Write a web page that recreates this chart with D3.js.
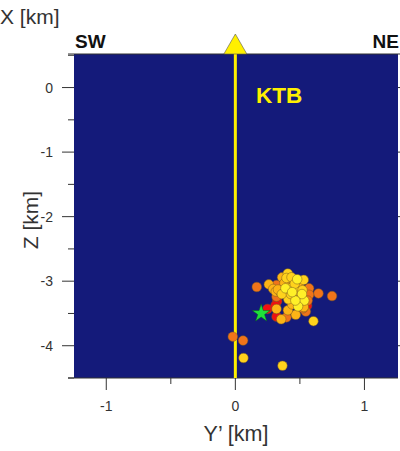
<!DOCTYPE html>
<html><head><meta charset="utf-8">
<script src="https://cdn.jsdelivr.net/npm/d3@7"></script>
<style>html,body{margin:0;background:#fff}svg{display:block;font-family:"Liberation Sans",Arial,sans-serif}</style>
</head><body><svg id="c" width="400" height="451"></svg>
<script>
const xMajor=[-1,0,1], xMinor=[-0.5,0.5];
const yMajor=[0,-1,-2,-3,-4], yMinor=[-0.5,-1.5,-2.5,-3.5,-4.5,0.5];
const redPts=[[0.324,-3.31],[0.249,-3.43],[0.319,-3.55],[0.556,-3.38],[0.31,-3.38]];
const orangePts=[[0.166,-3.09],[0.644,-3.19],[0.749,-3.23],[-0.02,-3.86],[0.06,-3.92],[0.319,-3.06],[0.571,-3.11],[0.571,-3.21],[0.546,-3.47],[0.396,-3.56],[0.525,-3.42],[0.319,-3.24],[0.47,-3.3],[0.56,-3.3]];
const amberPts=[[0.259,-3.05],[0.293,-3.12],[0.313,-3.16],[0.352,-3.17],[0.362,-2.94],[0.426,-3.06],[0.409,-3.21],[0.435,-3.24],[0.468,-3.52],[0.355,-3.59],[0.407,-3.45],[0.319,-3.43],[0.45,-3.0],[0.5,-3.25],[0.38,-3.03],[0.33,-3.13],[0.5,-3.1],[0.44,-3.36],[0.53,-3.4]];
const goldPts=[[0.406,-2.88],[0.396,-2.95],[0.435,-2.94],[0.53,-2.98],[0.422,-3.11],[0.466,-3.15],[0.41,-3.28],[0.063,-4.19],[0.365,-4.31],[0.605,-3.62],[0.36,-3.2],[0.46,-3.04],[0.52,-3.14],[0.43,-3.2]];
const yellowPts=[[0.534,-3.3],[0.486,-3.39],[0.479,-2.97],[0.388,-3.11],[0.516,-3.2],[0.465,-3.3],[0.44,-3.17]];
const classes=[[redPts,"#f01010"],[orangePts,"#f0741a"],[amberPts,"#fdb416"],[goldPts,"#ffd21c"],[yellowPts,"#fff028"]];
const starPt=[0.2,-3.5];
const xDomain=[-1.25,1.26], yDomain=[0.52,-4.5];
const svg=d3.select("#c");
const x=d3.scaleLinear().domain(xDomain).range([74,398]);
const y=d3.scaleLinear().domain(yDomain).range([54,378]);
const ink="#333";
svg.append("rect").attr("x",x.range()[0]).attr("y",y.range()[0]).attr("width",x.range()[1]-x.range()[0]).attr("height",y.range()[1]-y.range()[0]).attr("fill","#141a7a");
svg.append("line").attr("x1",68).attr("x2",400).attr("y1",54).attr("y2",54).attr("stroke",ink).attr("stroke-width",1.2);
svg.append("line").attr("x1",68).attr("x2",398).attr("y1",378).attr("y2",378).attr("stroke",ink).attr("stroke-width",1.2);
const ax=svg.append("g").attr("transform","translate(0,378)").attr("font-size",14);
xMajor.forEach(v=>{ax.append("line").attr("x1",x(v)).attr("x2",x(v)).attr("y1",0).attr("y2",12).attr("stroke",ink);
 ax.append("text").attr("x",x(v)).attr("y",33).attr("text-anchor","middle").attr("fill",ink).text(v);});
xMinor.forEach(v=>ax.append("line").attr("x1",x(v)).attr("x2",x(v)).attr("y1",0).attr("y2",6).attr("stroke",ink));
const ay=svg.append("g").attr("font-size",14);
yMajor.forEach(v=>{ay.append("line").attr("x1",62).attr("x2",74).attr("y1",y(v)).attr("y2",y(v)).attr("stroke",ink);
 ay.append("line").attr("x1",398).attr("x2",400).attr("y1",y(v)).attr("y2",y(v)).attr("stroke",ink);
 ay.append("text").attr("x",53).attr("y",y(v)+5).attr("text-anchor","end").attr("fill",ink).text(v);});
yMinor.forEach(v=>ay.append("line").attr("x1",68).attr("x2",74).attr("y1",y(v)).attr("y2",y(v)).attr("stroke",ink));
svg.append("line").attr("x1",x(0)).attr("x2",x(0)).attr("y1",54).attr("y2",378).attr("stroke","#fff000").attr("stroke-width",3);
svg.append("path").attr("d",d3.line()([[x(0)-11.5,54],[x(0),34],[x(0)+11.5,54]])+"Z").attr("fill","#fff000").attr("stroke","#555").attr("stroke-width",0.6);
classes.forEach(([pts,col])=>{
 svg.append("g").selectAll("circle").data(pts).join("circle")
  .attr("cx",d=>x(d[0])).attr("cy",d=>y(d[1])).attr("r",4.8).attr("fill",col).attr("stroke","#7a5a20").attr("stroke-width",0.5);
});
const star=d3.symbol().type(d3.symbolStar).size(100);
svg.append("path").attr("d",star()).attr("transform",`translate(${x(starPt[0])},${y(starPt[1])})`).attr("fill","#1fe03a").attr("stroke","#0a5a20").attr("stroke-width",0.5);
svg.append("text").attr("x",256).attr("y",103).attr("font-size",22.5).attr("font-weight","bold").attr("fill","#fff000").text("KTB");
svg.append("text").attr("x",75).attr("y",48).attr("font-size",19).attr("font-weight","bold").attr("fill","#111").text("SW");
svg.append("text").attr("x",399).attr("y",48).attr("text-anchor","end").attr("font-size",19).attr("font-weight","bold").attr("fill","#111").text("NE");
svg.append("text").attr("x",0).attr("y",24).attr("font-size",21).attr("fill",ink).text("X [km]");
svg.append("text").attr("x",236).attr("y",441).attr("text-anchor","middle").attr("font-size",21.5).attr("fill",ink).text("Y’ [km]");
svg.append("text").attr("transform","translate(38,220) rotate(-90)").attr("text-anchor","middle").attr("font-size",21).attr("fill",ink).text("Z [km]");
</script></body></html>
